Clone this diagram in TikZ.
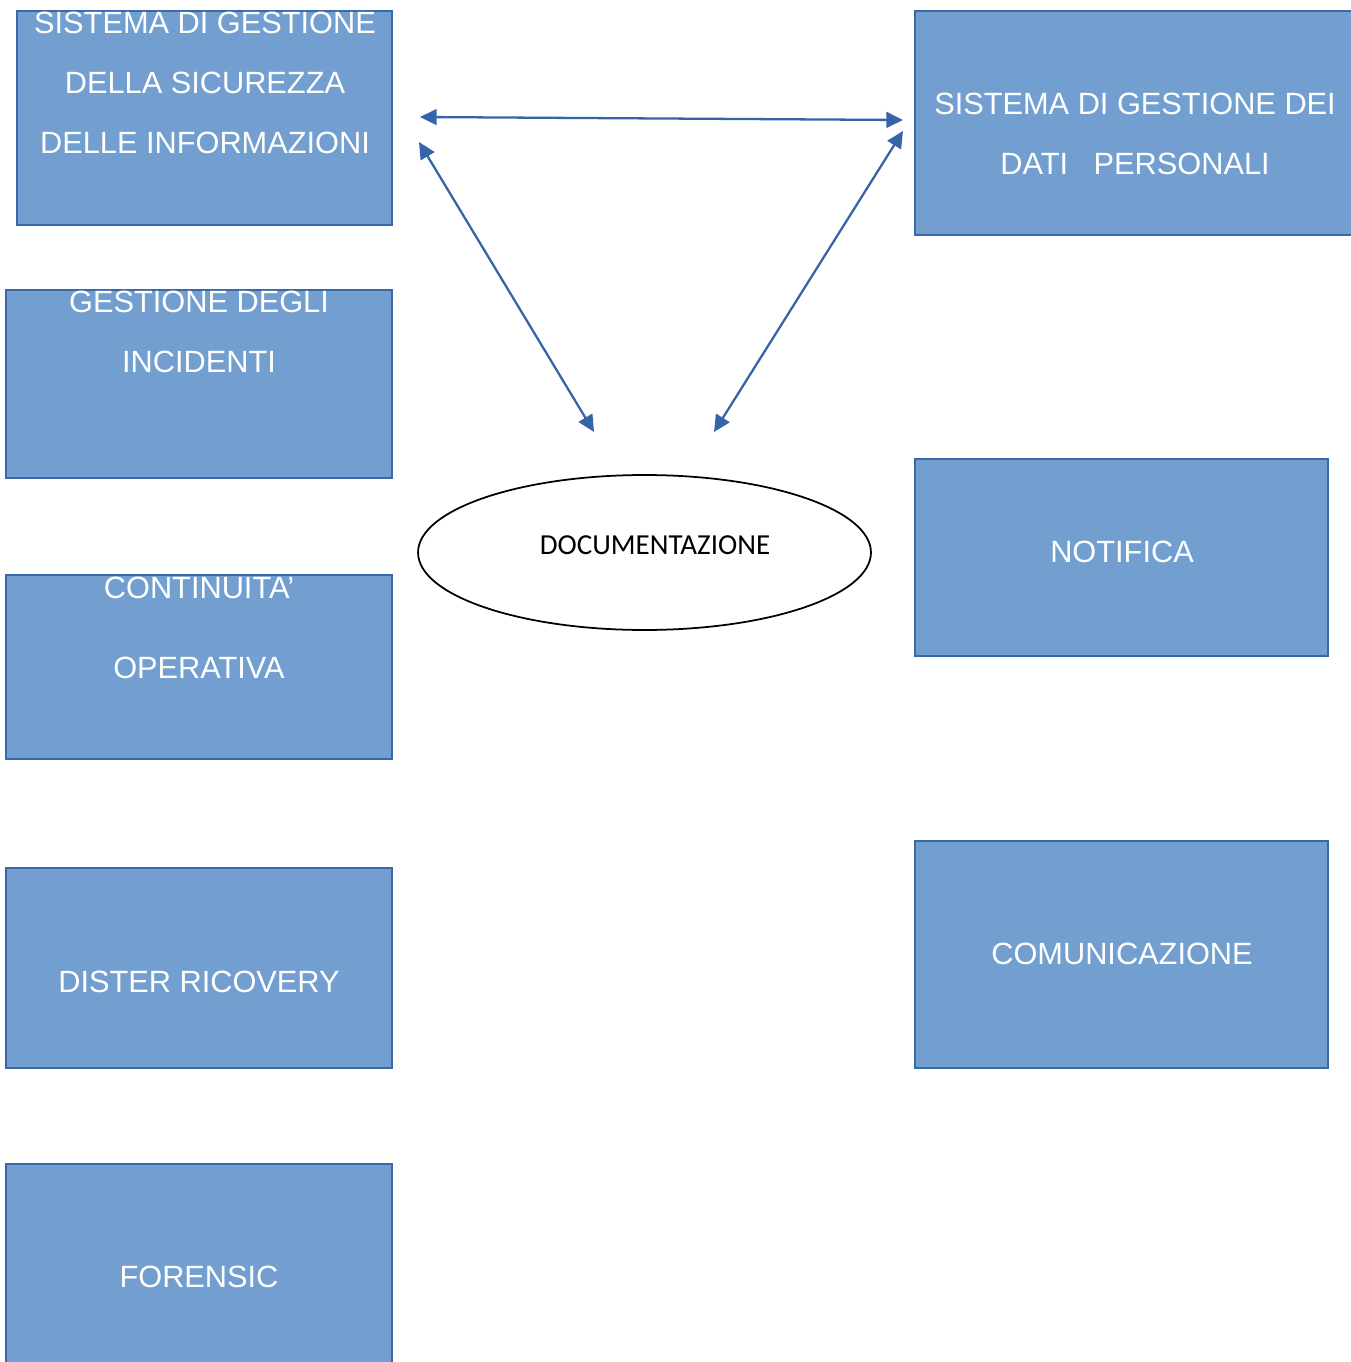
\documentclass[tikz,border=0pt]{standalone}
\usepackage{fontspec}
\setmainfont{Liberation Sans}
\newfontfamily\carlito{Carlito}
\usetikzlibrary{arrows.meta}
\usetikzlibrary{shapes.geometric}
\definecolor{boxfill}{RGB}{114,159,207}
\definecolor{boxline}{RGB}{58,105,170}
\definecolor{arrowblue}{RGB}{53,100,168}
\tikzstyle{every path}=[line width=0.8pt,line cap=round,line join=round]
\tikzstyle{blubox}=[draw=boxline,fill=boxfill,line width=1.1pt,line cap=butt,line join=miter,inner sep=0pt]
\tikzstyle{boxtext}=[text=white,align=center,inner sep=0pt,font=\fontsize{17.5}{34}\selectfont]
\tikzstyle{link}=[draw=arrowblue,line width=1.3pt,{Triangle[length=9.5pt,width=9pt]}-{Triangle[length=9.5pt,width=9pt]}]

\begin{document}
\begin{tikzpicture}[x=0.02cm,y=-0.02cm]
\useasboundingbox (0,0) rectangle (1351,1362);
% left column
\node[blubox,minimum width=7.5cm,minimum height=4.28cm] (sgsi) at (204.5,118) {};
\node[blubox,minimum width=7.72cm,minimum height=3.76cm] (incid) at (199,384) {};
\node[blubox,minimum width=7.72cm,minimum height=3.68cm] (contin) at (199,667) {};
\node[blubox,minimum width=7.72cm,minimum height=4cm] (disaster) at (199,968) {};
\node[blubox,minimum width=7.72cm,minimum height=4.16cm] (forensic) at (199,1268) {};
% right column
\node[blubox,minimum width=9cm,minimum height=4.48cm] (dati) at (1140,123) {};
\node[blubox,minimum width=8.26cm,minimum height=3.94cm] (notif) at (1121.5,557.5) {};
\node[blubox,minimum width=8.26cm,minimum height=4.54cm] (comun) at (1121.5,954.5) {};
% centre
\node[draw,ellipse,line width=1pt,minimum width=9.06cm,minimum height=3.1cm] (doc) at (644.5,552.5) {};

% texts
\node[boxtext] (sgsi-t) at (205,83) {SISTEMA DI GESTIONE\\DELLA SICUREZZA\\DELLE INFORMAZIONI};
\node[boxtext] (incid-t) at (199,332) {GESTIONE DEGLI\\INCIDENTI};
\node[boxtext] (contin-t) at (199,628) {CONTINUITA’\\[0.4cm]OPERATIVA};
\node[boxtext] (disaster-t) at (199,982) {DISTER RICOVERY};
\node[boxtext] (forensic-t) at (199,1277) {FORENSIC};
\node[boxtext] (dati-t) at (1135,134) {SISTEMA DI GESTIONE DEI\\DATI\ \ \ PERSONALI};
\node[boxtext] (notif-t) at (1122,552) {NOTIFICA};
\node[boxtext] (comun-t) at (1122,954) {COMUNICAZIONE};
\node[inner sep=0pt,font=\carlito\fontsize{16.5}{20}\selectfont] (doc-t) at (655,545) {DOCUMENTAZIONE};

% arrow ends
\coordinate (h-l) at (420,117);
\coordinate (h-r) at (903,120);
\coordinate (dl-t) at (419,142);
\coordinate (dl-b) at (594,432);
\coordinate (dr-t) at (903,131);
\coordinate (dr-b) at (714,432);
\draw[link] (h-l) -- (h-r);
\draw[link] (dl-t) -- (dl-b);
\draw[link] (dr-t) -- (dr-b);
\end{tikzpicture}
\end{document}
